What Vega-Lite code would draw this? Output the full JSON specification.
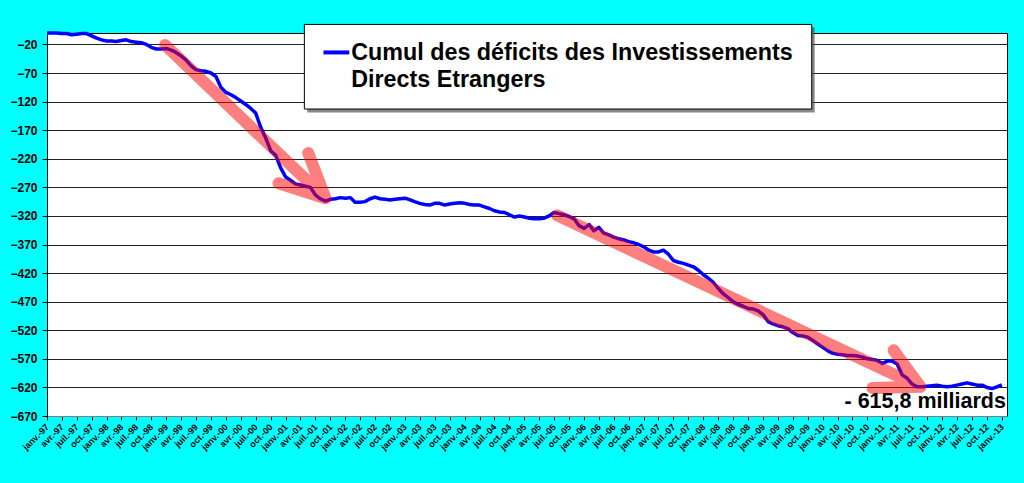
{
  "$schema": "https://vega.github.io/schema/vega-lite/v6.json",
  "width": 960,
  "height": 383,
  "autosize": "none",
  "padding": {"left": 47, "top": 33, "right": 17, "bottom": 67},
  "background": "#00ffff",
  "config": {
    "view": {"fill": "white", "stroke": "black", "strokeWidth": 1},
    "font": "Liberation Sans",
    "axisX": {
      "labelFontSize": 9,
      "labelFontWeight": "bold",
      "labelColor": "black",
      "labelAngle": -45,
      "labelAlign": "right",
      "labelBaseline": "middle",
      "labelOverlap": false,
      "labelBound": false,
      "labelFlush": false,
      "labelPadding": 5,
      "grid": false,
      "domainColor": "#808080",
      "tickColor": "black",
      "tickSize": 4
    },
    "axisY": {
      "labelFontSize": 12,
      "labelFontWeight": "bold",
      "labelColor": "black",
      "labelOverlap": false,
      "labelPadding": 5,
      "tickSize": 5,
      "tickColor": "black",
      "domainColor": "black",
      "grid": true,
      "gridColor": "#222222",
      "gridOpacity": 1
    }
  },
  "datasets": {
    "ide": [
      {"d": "1997-01-01", "v": 0}, {"d": "1997-02-01", "v": 0}, {"d": "1997-03-01", "v": 0}, {"d": "1997-04-01", "v": -1},
      {"d": "1997-05-01", "v": -1}, {"d": "1997-06-01", "v": -3}, {"d": "1997-07-01", "v": -2}, {"d": "1997-08-01", "v": -1},
      {"d": "1997-09-01", "v": -1}, {"d": "1997-10-01", "v": -5}, {"d": "1997-11-01", "v": -9}, {"d": "1997-12-01", "v": -12},
      {"d": "1998-01-01", "v": -14}, {"d": "1998-02-01", "v": -14}, {"d": "1998-03-01", "v": -15}, {"d": "1998-04-01", "v": -13},
      {"d": "1998-05-01", "v": -12}, {"d": "1998-06-01", "v": -15}, {"d": "1998-07-01", "v": -16}, {"d": "1998-08-01", "v": -17},
      {"d": "1998-09-01", "v": -20}, {"d": "1998-10-01", "v": -25}, {"d": "1998-11-01", "v": -28}, {"d": "1998-12-01", "v": -28},
      {"d": "1999-01-01", "v": -27}, {"d": "1999-02-01", "v": -30}, {"d": "1999-03-01", "v": -34}, {"d": "1999-04-01", "v": -40},
      {"d": "1999-05-01", "v": -47}, {"d": "1999-06-01", "v": -57}, {"d": "1999-07-01", "v": -64}, {"d": "1999-08-01", "v": -66},
      {"d": "1999-09-01", "v": -67}, {"d": "1999-10-01", "v": -70}, {"d": "1999-11-01", "v": -76}, {"d": "1999-12-01", "v": -95},
      {"d": "2000-01-01", "v": -104}, {"d": "2000-02-01", "v": -108}, {"d": "2000-03-01", "v": -113}, {"d": "2000-04-01", "v": -119},
      {"d": "2000-05-01", "v": -125}, {"d": "2000-06-01", "v": -132}, {"d": "2000-07-01", "v": -140}, {"d": "2000-08-01", "v": -165},
      {"d": "2000-09-01", "v": -184}, {"d": "2000-10-01", "v": -206}, {"d": "2000-11-01", "v": -214}, {"d": "2000-12-01", "v": -236},
      {"d": "2001-01-01", "v": -252}, {"d": "2001-02-01", "v": -258}, {"d": "2001-03-01", "v": -264}, {"d": "2001-04-01", "v": -266},
      {"d": "2001-05-01", "v": -268}, {"d": "2001-06-01", "v": -270}, {"d": "2001-07-01", "v": -283}, {"d": "2001-08-01", "v": -290},
      {"d": "2001-09-01", "v": -294}, {"d": "2001-10-01", "v": -291}, {"d": "2001-11-01", "v": -290}, {"d": "2001-12-01", "v": -288},
      {"d": "2002-01-01", "v": -289}, {"d": "2002-02-01", "v": -288}, {"d": "2002-03-01", "v": -296}, {"d": "2002-04-01", "v": -296},
      {"d": "2002-05-01", "v": -295}, {"d": "2002-06-01", "v": -290}, {"d": "2002-07-01", "v": -287}, {"d": "2002-08-01", "v": -290},
      {"d": "2002-09-01", "v": -291}, {"d": "2002-10-01", "v": -292}, {"d": "2002-11-01", "v": -291}, {"d": "2002-12-01", "v": -290},
      {"d": "2003-01-01", "v": -289}, {"d": "2003-02-01", "v": -292}, {"d": "2003-03-01", "v": -295}, {"d": "2003-04-01", "v": -298},
      {"d": "2003-05-01", "v": -300}, {"d": "2003-06-01", "v": -301}, {"d": "2003-07-01", "v": -298}, {"d": "2003-08-01", "v": -298},
      {"d": "2003-09-01", "v": -301}, {"d": "2003-10-01", "v": -299}, {"d": "2003-11-01", "v": -298}, {"d": "2003-12-01", "v": -297},
      {"d": "2004-01-01", "v": -298}, {"d": "2004-02-01", "v": -300}, {"d": "2004-03-01", "v": -301}, {"d": "2004-04-01", "v": -301},
      {"d": "2004-05-01", "v": -304}, {"d": "2004-06-01", "v": -307}, {"d": "2004-07-01", "v": -311}, {"d": "2004-08-01", "v": -313},
      {"d": "2004-09-01", "v": -314}, {"d": "2004-10-01", "v": -318}, {"d": "2004-11-01", "v": -322}, {"d": "2004-12-01", "v": -320},
      {"d": "2005-01-01", "v": -322}, {"d": "2005-02-01", "v": -324}, {"d": "2005-03-01", "v": -325}, {"d": "2005-04-01", "v": -325},
      {"d": "2005-05-01", "v": -324}, {"d": "2005-06-01", "v": -320}, {"d": "2005-07-01", "v": -314}, {"d": "2005-08-01", "v": -316},
      {"d": "2005-09-01", "v": -318}, {"d": "2005-10-01", "v": -321}, {"d": "2005-11-01", "v": -325}, {"d": "2005-12-01", "v": -337},
      {"d": "2006-01-01", "v": -342}, {"d": "2006-02-01", "v": -335}, {"d": "2006-03-01", "v": -346}, {"d": "2006-04-01", "v": -340},
      {"d": "2006-05-01", "v": -350}, {"d": "2006-06-01", "v": -353}, {"d": "2006-07-01", "v": -357}, {"d": "2006-08-01", "v": -360},
      {"d": "2006-09-01", "v": -362}, {"d": "2006-10-01", "v": -365}, {"d": "2006-11-01", "v": -367}, {"d": "2006-12-01", "v": -370},
      {"d": "2007-01-01", "v": -374}, {"d": "2007-02-01", "v": -380}, {"d": "2007-03-01", "v": -383}, {"d": "2007-04-01", "v": -383},
      {"d": "2007-05-01", "v": -380}, {"d": "2007-06-01", "v": -387}, {"d": "2007-07-01", "v": -398}, {"d": "2007-08-01", "v": -401},
      {"d": "2007-09-01", "v": -403}, {"d": "2007-10-01", "v": -406}, {"d": "2007-11-01", "v": -409}, {"d": "2007-12-01", "v": -415},
      {"d": "2008-01-01", "v": -423}, {"d": "2008-02-01", "v": -429}, {"d": "2008-03-01", "v": -436}, {"d": "2008-04-01", "v": -447},
      {"d": "2008-05-01", "v": -456}, {"d": "2008-06-01", "v": -463}, {"d": "2008-07-01", "v": -470}, {"d": "2008-08-01", "v": -475},
      {"d": "2008-09-01", "v": -478}, {"d": "2008-10-01", "v": -482}, {"d": "2008-11-01", "v": -483}, {"d": "2008-12-01", "v": -486},
      {"d": "2009-01-01", "v": -493}, {"d": "2009-02-01", "v": -505}, {"d": "2009-03-01", "v": -509}, {"d": "2009-04-01", "v": -512},
      {"d": "2009-05-01", "v": -514}, {"d": "2009-06-01", "v": -517}, {"d": "2009-07-01", "v": -524}, {"d": "2009-08-01", "v": -529},
      {"d": "2009-09-01", "v": -530}, {"d": "2009-10-01", "v": -532}, {"d": "2009-11-01", "v": -538}, {"d": "2009-12-01", "v": -544},
      {"d": "2010-01-01", "v": -550}, {"d": "2010-02-01", "v": -556}, {"d": "2010-03-01", "v": -560}, {"d": "2010-04-01", "v": -562},
      {"d": "2010-05-01", "v": -563}, {"d": "2010-06-01", "v": -564}, {"d": "2010-07-01", "v": -564}, {"d": "2010-08-01", "v": -565},
      {"d": "2010-09-01", "v": -567}, {"d": "2010-10-01", "v": -570}, {"d": "2010-11-01", "v": -571}, {"d": "2010-12-01", "v": -573},
      {"d": "2011-01-01", "v": -578}, {"d": "2011-02-01", "v": -574}, {"d": "2011-03-01", "v": -574}, {"d": "2011-04-01", "v": -579},
      {"d": "2011-05-01", "v": -598}, {"d": "2011-06-01", "v": -604}, {"d": "2011-07-01", "v": -614}, {"d": "2011-08-01", "v": -619},
      {"d": "2011-09-01", "v": -619}, {"d": "2011-10-01", "v": -618}, {"d": "2011-11-01", "v": -617}, {"d": "2011-12-01", "v": -616},
      {"d": "2012-01-01", "v": -618}, {"d": "2012-02-01", "v": -619}, {"d": "2012-03-01", "v": -618}, {"d": "2012-04-01", "v": -616},
      {"d": "2012-05-01", "v": -614}, {"d": "2012-06-01", "v": -612}, {"d": "2012-07-01", "v": -614}, {"d": "2012-08-01", "v": -616},
      {"d": "2012-09-01", "v": -616}, {"d": "2012-10-01", "v": -620}, {"d": "2012-11-01", "v": -622}, {"d": "2012-12-01", "v": -619},
      {"d": "2013-01-01", "v": -615.8}
    ],
    "fleches": [
      {"f": 1, "o": 1, "x": "1998-12-25", "y": -21},
      {"f": 1, "o": 2, "x": "2001-09-01", "y": -289},
      {"f": 1, "o": 3, "x": "2001-05-19", "y": -210},
      {"f": 1, "o": 4, "x": "2001-09-01", "y": -289},
      {"f": 1, "o": 5, "x": "2000-11-18", "y": -263},
      {"f": 2, "o": 1, "x": "2005-07-21", "y": -319},
      {"f": 2, "o": 2, "x": "2011-08-21", "y": -619},
      {"f": 2, "o": 3, "x": "2011-03-10", "y": -555},
      {"f": 2, "o": 4, "x": "2011-08-21", "y": -619},
      {"f": 2, "o": 5, "x": "2010-11-01", "y": -621}
    ],
    "cadre": [
      {"x": "2001-04-25", "y": 15, "x2": "2009-10-25", "y2": -133}
    ],
    "ombre": [
      {"x": "2001-05-13", "y": 10, "x2": "2009-11-12", "y2": -139}
    ],
    "symbole": [
      {"x": "2001-08-20", "y": -34, "x2": "2002-01-25", "y2": -34}
    ],
    "legende": [
      {"x": "2002-02-06", "y": -46.5, "t": "Cumul des déficits des Investissements\nDirects Etrangers"}
    ],
    "note": [
      {"x": "2013-01-25", "y": -656, "t": "- 615,8 milliards"}
    ]
  },
  "layer": [
    {
      "data": {"name": "ide"},
      "mark": {"type": "line", "color": "#0000ff", "strokeWidth": 3.5, "strokeJoin": "round"},
      "encoding": {
        "x": {
          "field": "d",
          "type": "temporal",
          "title": null,
          "scale": {"domain": ["1997-01-01", "2013-02-01"], "nice": false},
          "axis": {
            "tickCount": {"interval": "month", "step": 3},
            "labelExpr": "(month(datum.value)==0?'janv.':month(datum.value)==3?'avr.':month(datum.value)==6?'juil.':'oct.') + '-' + timeFormat(datum.value, '%y')"
          }
        },
        "y": {
          "field": "v",
          "type": "quantitative",
          "title": null,
          "scale": {"domain": [-670, 0], "nice": false, "zero": false},
          "axis": {
            "values": [-20, -70, -120, -170, -220, -270, -320, -370, -420, -470, -520, -570, -620, -670],
            "tickCount": 30
          }
        }
      }
    },
    {
      "data": {"name": "fleches"},
      "mark": {"type": "line", "color": "#ff0000", "opacity": 0.5, "strokeWidth": 12, "strokeCap": "round", "strokeJoin": "round"},
      "encoding": {
        "x": {"field": "x", "type": "temporal"},
        "y": {"field": "y", "type": "quantitative"},
        "detail": {"field": "f", "type": "nominal"},
        "order": {"field": "o", "type": "quantitative"}
      }
    },
    {
      "data": {"name": "ombre"},
      "mark": {"type": "rect", "color": "#555555", "opacity": 0.7},
      "encoding": {
        "x": {"field": "x", "type": "temporal"},
        "x2": {"field": "x2"},
        "y": {"field": "y", "type": "quantitative"},
        "y2": {"field": "y2"}
      }
    },
    {
      "data": {"name": "cadre"},
      "mark": {"type": "rect", "fill": "white", "stroke": "black", "strokeWidth": 1},
      "encoding": {
        "x": {"field": "x", "type": "temporal"},
        "x2": {"field": "x2"},
        "y": {"field": "y", "type": "quantitative"},
        "y2": {"field": "y2"}
      }
    },
    {
      "data": {"name": "symbole"},
      "mark": {"type": "rule", "color": "#0000ff", "strokeWidth": 4},
      "encoding": {
        "x": {"field": "x", "type": "temporal"},
        "x2": {"field": "x2"},
        "y": {"field": "y", "type": "quantitative"},
        "y2": {"field": "y2"}
      }
    },
    {
      "data": {"name": "legende"},
      "mark": {"type": "text", "align": "left", "baseline": "alphabetic", "fontSize": 23.3, "fontWeight": "bold", "color": "black", "lineBreak": "\n", "lineHeight": 27.5},
      "encoding": {
        "x": {"field": "x", "type": "temporal"},
        "y": {"field": "y", "type": "quantitative"},
        "text": {"field": "t"}
      }
    },
    {
      "data": {"name": "note"},
      "mark": {"type": "text", "align": "right", "baseline": "alphabetic", "fontSize": 21.5, "fontWeight": "bold", "color": "black"},
      "encoding": {
        "x": {"field": "x", "type": "temporal"},
        "y": {"field": "y", "type": "quantitative"},
        "text": {"field": "t"}
      }
    }
  ]
}
